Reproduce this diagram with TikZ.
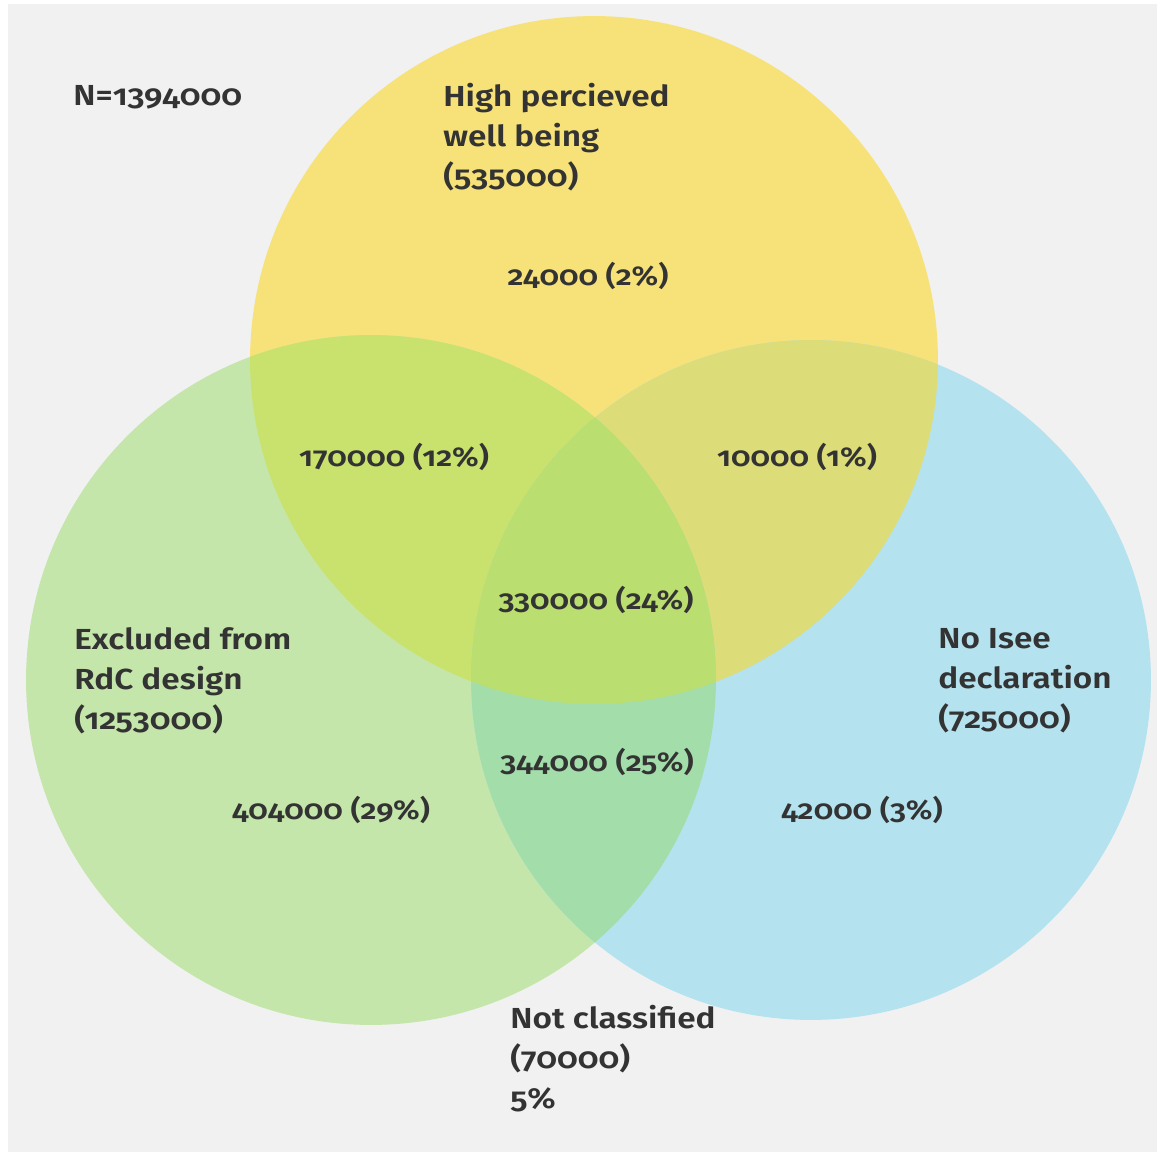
\documentclass[tikz,border=0pt]{standalone}
\usepackage{fontspec}
\setmainfont{Fira Sans}[BoldFont={Fira Sans SemiBold},Numbers=OldStyle,FakeStretch=1.15]
\definecolor{bggray}{HTML}{F1F1F1}
\definecolor{yelc}{HTML}{F7E27A}
\definecolor{grnc}{HTML}{C5E6AA}
\definecolor{bluc}{HTML}{B5E2EF}
\definecolor{ygc}{HTML}{C9E26E}
\definecolor{ybc}{HTML}{DCDC78}
\definecolor{gbc}{HTML}{A3DEAA}
\definecolor{allc}{HTML}{BADE70}
\tikzset{
  lbl/.style={font=\bfseries\fontsize{16.5}{22.7}\selectfont, text=black!80, inner sep=0pt, align=left},
  num/.style={lbl, font=\bfseries\fontsize{15.5}{20}\selectfont, anchor=center},
}
\begin{document}
\begin{tikzpicture}[x=0.02cm, y=-0.02cm]
\useasboundingbox (0,0) rectangle (1157,1152);
\fill[white] (0,0) rectangle (1157,1152);
\fill[bggray] (8,4) rectangle (1157,1152);
% circle centres
\coordinate (cy) at (594,360);
\coordinate (cg) at (371,680);
\coordinate (cb) at (811,680);
\fill[yelc] (cy) circle (6.88cm);
\fill[grnc] (cg) circle (6.9cm);
\fill[bluc] (cb) circle (6.8cm);
% pairwise overlaps
\begin{scope}
  \clip (cy) circle (6.88cm);
  \fill[ygc] (cg) circle (6.9cm);
\end{scope}
\begin{scope}
  \clip (cy) circle (6.88cm);
  \fill[ybc] (cb) circle (6.8cm);
\end{scope}
\begin{scope}
  \clip (cg) circle (6.9cm);
  \fill[gbc] (cb) circle (6.8cm);
\end{scope}
% all three
\begin{scope}
  \clip (cy) circle (6.88cm);
  \clip (cg) circle (6.9cm);
  \fill[allc] (cb) circle (6.8cm);
\end{scope}
% labels
\node[lbl, anchor=west] (total) at (73,97) {N=1394000};
\node[lbl, anchor=west] (wellbeing) at (443,137) {High percieved\\well being\\(535000)};
\node[lbl, anchor=west] (excluded) at (74,681) {Excluded from\\RdC design\\(1253000)};
\node[lbl, anchor=west] (noisee) at (938,681) {No Isee\\declaration\\(725000)};
\node[lbl, anchor=west] (notclass) at (510,1059) {Not classified\\(70000)\\5\%};
\node[num] (yonly) at (588,276) {24000 (2\%)};
\node[num] (yg) at (394,457) {170000 (12\%)};
\node[num] (yb) at (797,457) {10000 (1\%)};
\node[num] (ygb) at (596,600) {330000 (24\%)};
\node[num] (gb) at (597,762) {344000 (25\%)};
\node[num] (gonly) at (331,810) {404000 (29\%)};
\node[num] (bonly) at (862,810) {42000 (3\%)};
\end{tikzpicture}
\end{document}
